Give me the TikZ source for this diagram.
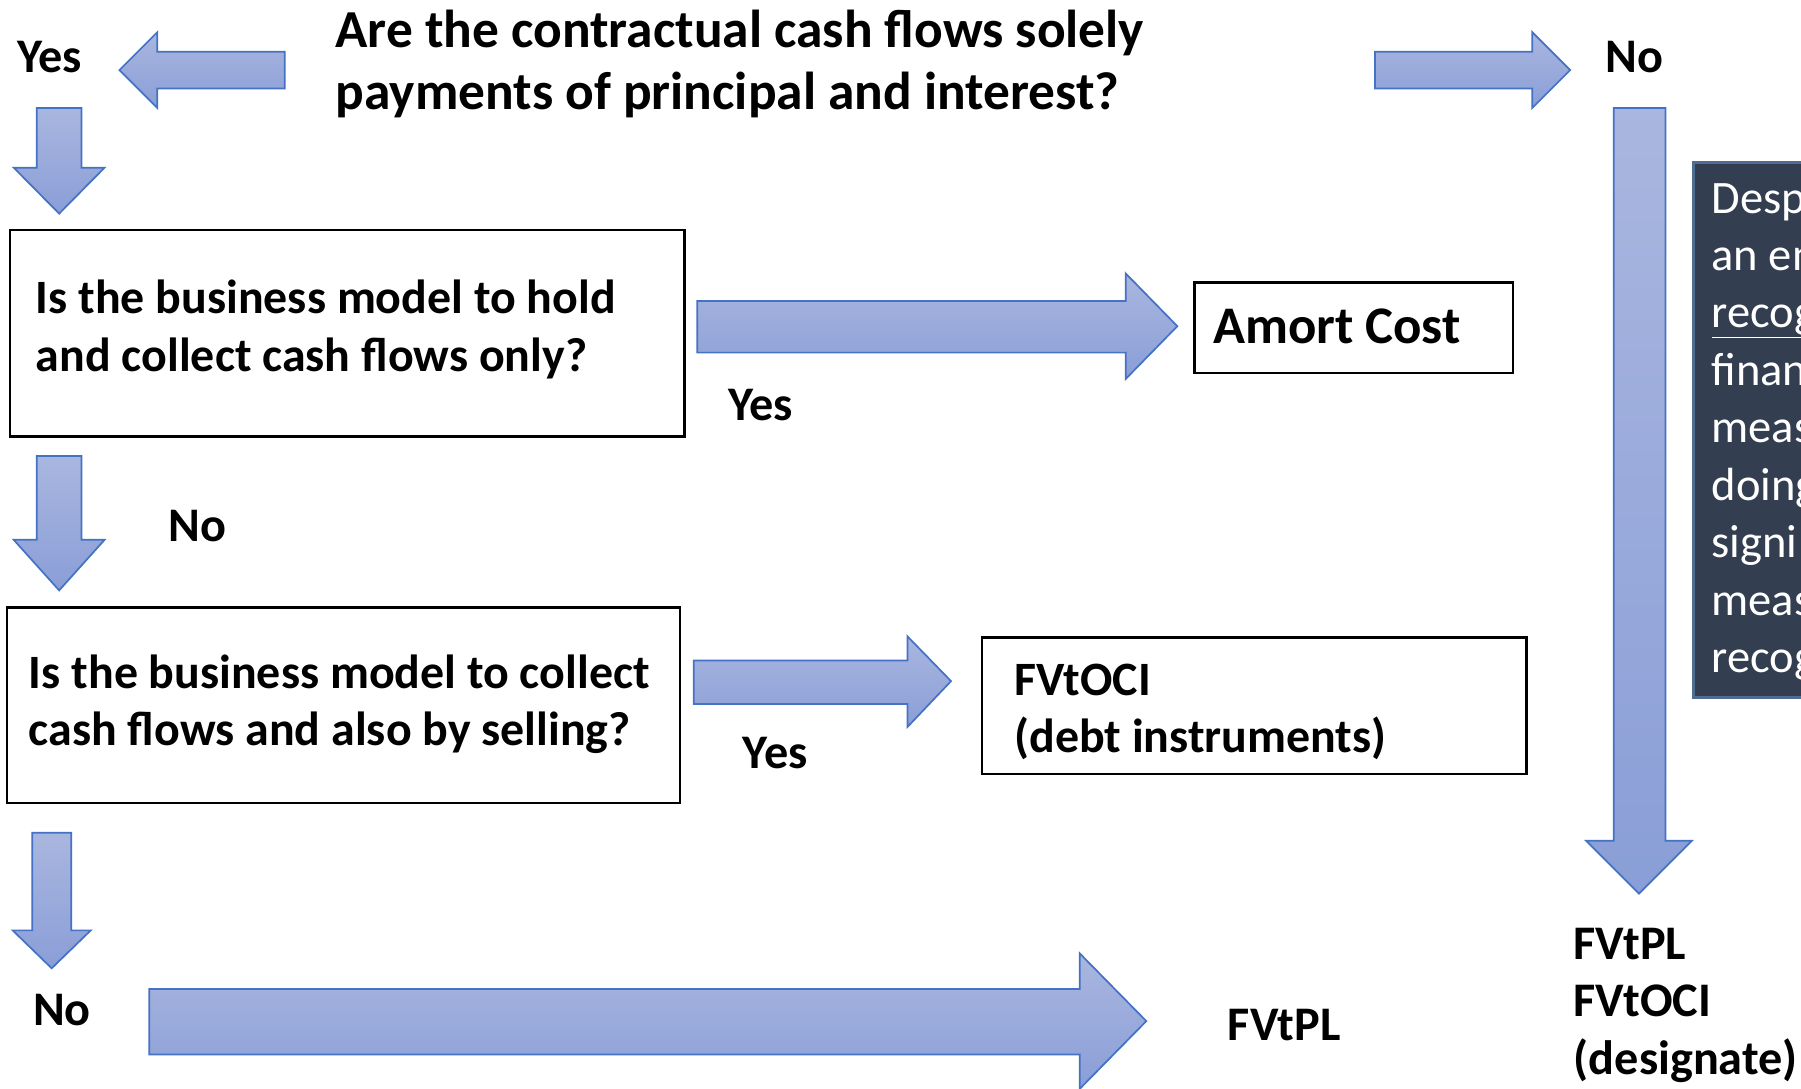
\documentclass[tikz,border=0pt]{standalone}
\usepackage{fontspec}
\setmainfont{Carlito}
\definecolor{arrowtop}{HTML}{A9B6DF}
\definecolor{arrowbot}{HTML}{8A9ED7}
\definecolor{arrowline}{HTML}{4472C4}
\definecolor{notefill}{HTML}{333F50}
\definecolor{noteline}{HTML}{4F6D8F}
\tikzset{
  qtext/.style={font=\bfseries\fontsize{41.7bp}{50bp}\selectfont, align=left, inner sep=0pt, anchor=west},
  lbl/.style={font=\bfseries\fontsize{42bp}{50bp}\selectfont, inner sep=0pt, align=left},
  qbox/.style={draw=black, line width=2bp, fill=white, anchor=north west, inner sep=0pt},
  blk/.style={draw=arrowline, line width=1.5bp, top color=arrowtop, bottom color=arrowbot},
}
\begin{document}
\begin{tikzpicture}[x=1bp,y=-1bp]
\useasboundingbox (0,0) rectangle (1568,948);
\clip (0,0) rectangle (1568,948);
\fill[white] (0,0) rectangle (1568,948);

% question 0
\node[font=\bfseries\fontsize{46.5bp}{54bp}\selectfont, align=left, inner sep=0pt, anchor=west] (q0) at (292,56)
  {Are the contractual cash flows solely\\payments of principal and interest?};

% boxes
\node[qbox, minimum width=587bp, minimum height=180bp] (b1) at (8,199) {};
\node[qtext] (b1t) at (31,287) {Is the business model to hold\\and collect cash flows only?};
\node[qbox, minimum width=586bp, minimum height=170bp] (b2) at (5,528) {};
\node[qtext] (b2t) at (25,613) {Is the business model to collect\\cash flows and also by selling?};
\node[qbox, minimum width=277bp, minimum height=79bp] (amort) at (1039,245) {};
\node[font=\bfseries\fontsize{46bp}{55bp}\selectfont, inner sep=0pt, anchor=west] (amortt) at (1056,284) {Amort Cost};
\node[qbox, minimum width=474bp, minimum height=119bp] (fvoci) at (854,554) {};
\node[qtext] (fvocit) at (883,620) {FVtOCI\\(debt instruments)};

% note box (cut by the page edge)
\node[draw=noteline, line width=2.5bp, fill=notefill, anchor=north west,
      minimum width=200bp, minimum height=466bp, inner sep=0pt] (note) at (1473,140) {};
\node[text=white, anchor=west, inner sep=0pt, align=left,
      font=\fontsize{40.5bp}{50bp}\selectfont] (notet) at (1490,376)
  {Desp\\an en\\\underline{recog}\\finan\\meas\\doing\\signi\\meas\\recog};

% block arrows
\path[blk] (248,45) -- (137,45) -- (137,28) -- (104,61) -- (137,94) -- (137,77) -- (248,77) -- cycle;
\path[blk] (32,94) -- (71,94) -- (71,146) -- (91,146) -- (51.5,186) -- (12,146) -- (32,146) -- cycle;
\path[blk] (607,262) -- (980,262) -- (980,238) -- (1025,284) -- (980,330) -- (980,307) -- (607,307) -- cycle;
\path[blk] (32,397) -- (71,397) -- (71,470) -- (91,470) -- (51.5,514) -- (12,470) -- (32,470) -- cycle;
\path[blk] (604,575) -- (790,575) -- (790,554) -- (828,593) -- (790,633) -- (790,613) -- (604,613) -- cycle;
\path[blk] (28,725) -- (62,725) -- (62,810) -- (79,810) -- (45,843) -- (11,810) -- (28,810) -- cycle;
\path[blk] (130,861) -- (940,861) -- (940,830) -- (998,889) -- (940,948) -- (940,918) -- (130,918) -- cycle;
\path[blk] (1197,45) -- (1334,45) -- (1334,28) -- (1367,61) -- (1334,94) -- (1334,77) -- (1197,77) -- cycle;
\path[blk] (1405,94) -- (1450,94) -- (1450,732) -- (1473,732) -- (1427,778) -- (1381,732) -- (1405,732) -- cycle;

% labels
\node[lbl] (yes0) at (43,50) {Yes};
\node[lbl] (no0) at (1423,50) {No};
\node[lbl] (yes1) at (662,353) {Yes};
\node[lbl] (no1) at (172,458) {No};
\node[lbl] (yes2) at (675,656) {Yes};
\node[lbl] (no2) at (54,879) {No};
\node[lbl] (fvpl) at (1118,892) {FVtPL};
\node[lbl, anchor=west] (desig) at (1370,875) {FVtPL\\FVtOCI\\(designate)};
\end{tikzpicture}
\end{document}
